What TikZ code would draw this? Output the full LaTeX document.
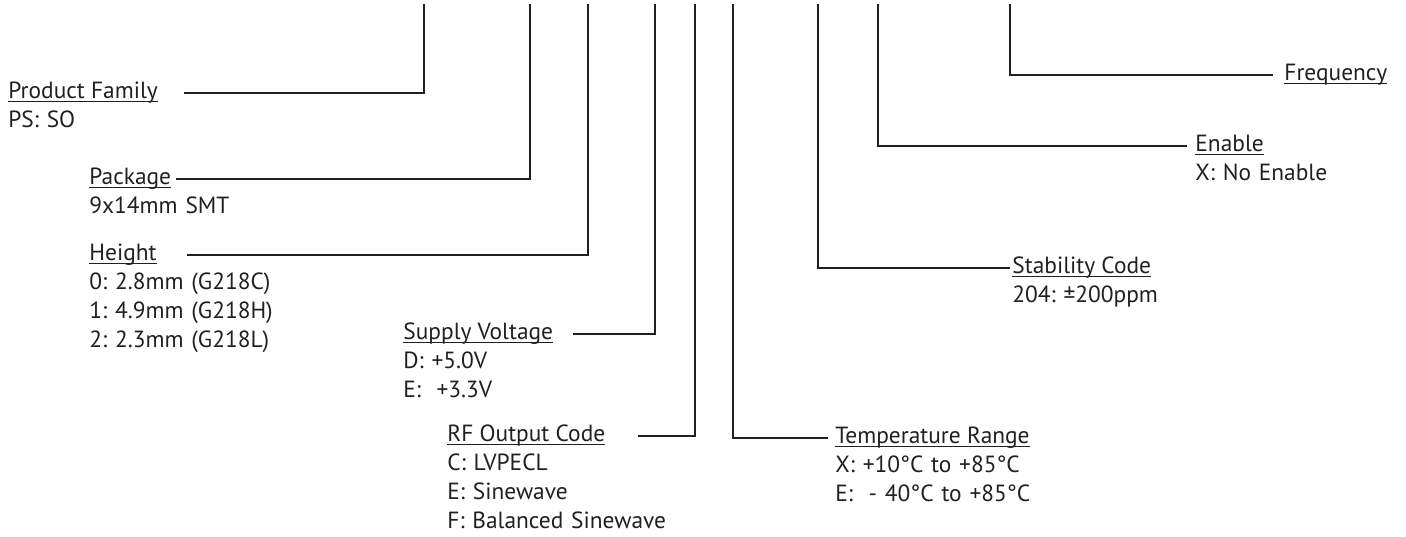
\documentclass[tikz,border=0pt]{standalone}
\usepackage{fontspec}
\setmainfont{PT Sans}
\usepackage{xcolor}
\definecolor{ink}{HTML}{231F20}
\newcommand{\fieldtitle}[1]{\underline{\smash{#1}}}

\begin{document}
\begin{tikzpicture}[x=0.5pt, y=-0.5pt,
    every node/.style={font=\fontsize{11.7}{14.5}\selectfont\frenchspacing, text=ink, inner sep=0pt},
    fieldname/.style={anchor=west, text height=9pt, text depth=3.4pt},
    fieldinfo/.style={anchor=base west, text width=5cm, align=left},
    lead/.style={draw=ink, line width=1.35pt}]
    \useasboundingbox (0,0) rectangle (1406,536);
    \coordinate (pf-top) at (424,4);
    \coordinate (pk-top) at (530,4);
    \coordinate (ht-top) at (588,4);
    \coordinate (sv-top) at (655,4);
    \coordinate (rf-top) at (695,4);
    \coordinate (tr-top) at (733,4);
    \coordinate (sc-top) at (818,4);
    \coordinate (en-top) at (878,4);
    \coordinate (fq-top) at (1010,4);

    \node[fieldname] (pf) at (8,93) {\fieldtitle{Product Family}};
    \node[fieldinfo] (pf-info) at ([yshift=-14.5pt]pf.base west) {PS: SO};
    \node[fieldname] (pk) at (89,179) {\fieldtitle{Package}};
    \node[fieldinfo] (pk-info) at ([yshift=-14.5pt]pk.base west) {9x14mm SMT};
    \node[fieldname] (ht) at (89,255) {\fieldtitle{Height}};
    \node[fieldinfo] (ht-info) at ([yshift=-14.5pt]ht.base west)
      {0: 2.8mm (G218C)\\1: 4.9mm (G218H)\\2: 2.3mm (G218L)};
    \node[fieldname] (sv) at (403,334) {\fieldtitle{Supply Voltage}};
    \node[fieldinfo] (sv-info) at ([yshift=-14.5pt]sv.base west) {D: +5.0V\\E:\ \ +3.3V};
    \node[fieldname] (rf) at (447,436) {\fieldtitle{RF Output Code}};
    \node[fieldinfo] (rf-info) at ([yshift=-14.5pt]rf.base west)
      {C: LVPECL\\E: Sinewave\\F: Balanced Sinewave};
    \node[fieldname] (tr) at (835,438) {\fieldtitle{Temperature Range}};
    \node[fieldinfo] (tr-info) at ([yshift=-14.5pt]tr.base west)
      {X: +10°C to +85°C\\E:\ \ - 40°C to +85°C};
    \node[fieldname] (sc) at (1012,268) {\fieldtitle{Stability Code}};
    \node[fieldinfo] (sc-info) at ([yshift=-14.5pt]sc.base west) {204: ±200ppm};
    \node[fieldname] (en) at (1195,146) {\fieldtitle{Enable}};
    \node[fieldinfo] (en-info) at ([yshift=-14.5pt]en.base west) {X: No Enable};
    \node[fieldname] (fq) at (1284,75) {\fieldtitle{Frequency}};

    \draw[lead] ([xshift=13pt]pf.east) -| (pf-top);
    \draw[lead] ([xshift=2.5pt]pk.east) -| (pk-top);
    \draw[lead] ([xshift=15pt]ht.east) -| (ht-top);
    \draw[lead] ([xshift=10pt]sv.east) -| (sv-top);
    \draw[lead] ([xshift=16pt]rf.east) -| (rf-top);
    \draw[lead] ([xshift=-3.5pt]tr.west) -| (tr-top);
    \draw[lead] ([xshift=-1pt]sc.west) -| (sc-top);
    \draw[lead] ([xshift=-4pt]en.west) -| (en-top);
    \draw[lead] ([xshift=-5.5pt]fq.west) -| (fq-top);
  \end{tikzpicture}
\end{document}
